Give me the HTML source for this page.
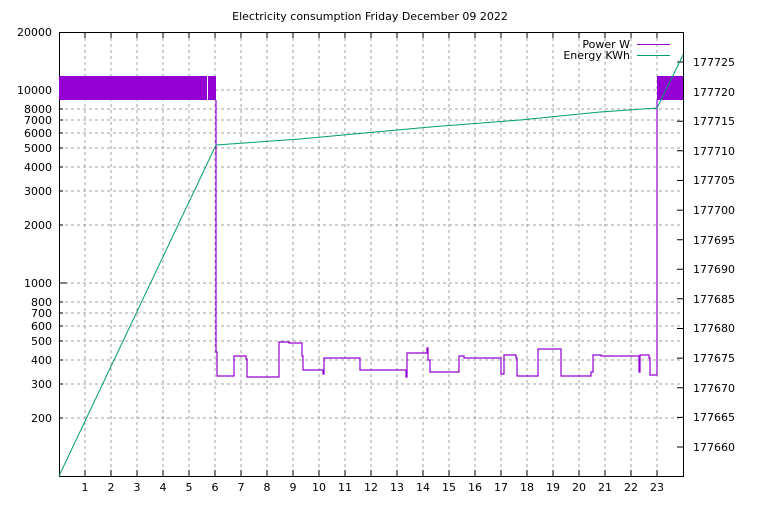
<!DOCTYPE html>
<html><head><style>body{margin:0;background:#fff}svg text{font-family:"DejaVu Sans","Liberation Sans",sans-serif;font-size:11px;fill:#000}</style></head><body>
<svg width="768" height="500" xmlns="http://www.w3.org/2000/svg">
<text x="370" y="20" text-anchor="middle">Electricity consumption Friday December 09 2022</text>
<g stroke="#a0a0a0" stroke-dasharray="3,3" stroke-width="1">
<line x1="85" y1="32" x2="85" y2="476"/><line x1="111" y1="32" x2="111" y2="476"/><line x1="137" y1="32" x2="137" y2="476"/><line x1="163" y1="32" x2="163" y2="476"/><line x1="189" y1="32" x2="189" y2="476"/><line x1="215" y1="32" x2="215" y2="476"/><line x1="241" y1="32" x2="241" y2="476"/><line x1="267" y1="32" x2="267" y2="476"/><line x1="293" y1="32" x2="293" y2="476"/><line x1="319" y1="32" x2="319" y2="476"/><line x1="345" y1="32" x2="345" y2="476"/><line x1="371" y1="32" x2="371" y2="476"/><line x1="397" y1="32" x2="397" y2="476"/><line x1="423" y1="32" x2="423" y2="476"/><line x1="449" y1="32" x2="449" y2="476"/><line x1="475" y1="32" x2="475" y2="476"/><line x1="501" y1="32" x2="501" y2="476"/><line x1="527" y1="32" x2="527" y2="476"/><line x1="553" y1="32" x2="553" y2="476"/><line x1="579" y1="32" x2="579" y2="476"/><line x1="605" y1="32" x2="605" y2="476"/><line x1="631" y1="32" x2="631" y2="476"/><line x1="657" y1="32" x2="657" y2="476"/>
<line x1="59" y1="90" x2="683" y2="90"/><line x1="59" y1="109" x2="683" y2="109"/><line x1="59" y1="120" x2="683" y2="120"/><line x1="59" y1="133" x2="683" y2="133"/><line x1="59" y1="148" x2="683" y2="148"/><line x1="59" y1="167" x2="683" y2="167"/><line x1="59" y1="191" x2="683" y2="191"/><line x1="59" y1="225" x2="683" y2="225"/><line x1="59" y1="283" x2="683" y2="283"/><line x1="59" y1="302" x2="683" y2="302"/><line x1="59" y1="313" x2="683" y2="313"/><line x1="59" y1="326" x2="683" y2="326"/><line x1="59" y1="341" x2="683" y2="341"/><line x1="59" y1="360" x2="683" y2="360"/><line x1="59" y1="384" x2="683" y2="384"/><line x1="59" y1="418" x2="683" y2="418"/>
</g>
<g stroke="#000" stroke-width="1">
<rect x="59.5" y="32.5" width="624" height="444" fill="none"/>
<path d="M85 476v-6M111 476v-6M137 476v-6M163 476v-6M189 476v-6M215 476v-6M241 476v-6M267 476v-6M293 476v-6M319 476v-6M345 476v-6M371 476v-6M397 476v-6M423 476v-6M449 476v-6M475 476v-6M501 476v-6M527 476v-6M553 476v-6M579 476v-6M605 476v-6M631 476v-6M657 476v-6M85 32v6M111 32v6M137 32v6M163 32v6M189 32v6M215 32v6M241 32v6M267 32v6M293 32v6M319 32v6M345 32v6M371 32v6M397 32v6M423 32v6M449 32v6M475 32v6M501 32v6M527 32v6M553 32v6M579 32v6M605 32v6M631 32v6M657 32v6"/>
<path d="M59 90h8M59 109h4M59 120h4M59 133h4M59 148h4M59 167h4M59 191h4M59 225h4M59 283h8M59 302h4M59 313h4M59 326h4M59 341h4M59 360h4M59 384h4M59 418h4"/>
<path d="M683 62h-6M683 91.6h-6M683 121.2h-6M683 150.8h-6M683 180.5h-6M683 210.1h-6M683 239.7h-6M683 269.3h-6M683 298.8h-6M683 328.5h-6M683 358.1h-6M683 387.7h-6M683 417.4h-6M683 447h-6"/>
</g>
<g text-anchor="end">
<text x="52" y="36">20000</text><text x="52" y="94">10000</text><text x="52" y="113">8000</text><text x="52" y="124">7000</text><text x="52" y="137">6000</text><text x="52" y="152">5000</text><text x="52" y="171">4000</text><text x="52" y="195">3000</text><text x="52" y="229">2000</text><text x="52" y="287">1000</text><text x="52" y="306">800</text><text x="52" y="317">700</text><text x="52" y="330">600</text><text x="52" y="345">500</text><text x="52" y="364">400</text><text x="52" y="388">300</text><text x="52" y="422">200</text>
</g>
<g text-anchor="start">
<text x="693" y="66">177725</text><text x="693" y="96">177720</text><text x="693" y="125">177715</text><text x="693" y="155">177710</text><text x="693" y="184">177705</text><text x="693" y="214">177700</text><text x="693" y="244">177695</text><text x="693" y="273">177690</text><text x="693" y="303">177685</text><text x="693" y="332">177680</text><text x="693" y="362">177675</text><text x="693" y="392">177670</text><text x="693" y="421">177665</text><text x="693" y="451">177660</text>
</g>
<g text-anchor="middle">
<text x="85" y="491">1</text><text x="111" y="491">2</text><text x="137" y="491">3</text><text x="163" y="491">4</text><text x="189" y="491">5</text><text x="215" y="491">6</text><text x="241" y="491">7</text><text x="267" y="491">8</text><text x="293" y="491">9</text><text x="319" y="491">10</text><text x="345" y="491">11</text><text x="371" y="491">12</text><text x="397" y="491">13</text><text x="423" y="491">14</text><text x="449" y="491">15</text><text x="475" y="491">16</text><text x="501" y="491">17</text><text x="527" y="491">18</text><text x="553" y="491">19</text><text x="579" y="491">20</text><text x="605" y="491">21</text><text x="631" y="491">22</text><text x="657" y="491">23</text>
</g>
<text x="630" y="48" text-anchor="end">Power W</text>
<text x="630" y="59" text-anchor="end">Energy KWh</text>
<line x1="637" y1="44.5" x2="670" y2="44.5" stroke="#9400d3"/>
<line x1="637" y1="55.5" x2="670" y2="55.5" stroke="#009e73"/>
<rect x="59" y="76" width="148" height="24" fill="#9400d3"/>
<rect x="208" y="76" width="8" height="24" fill="#9400d3"/>
<rect x="657" y="76" width="26" height="24" fill="#9400d3"/>
<polyline fill="none" stroke="#9400d3" stroke-width="1.2" points="216,100 216,352 217,352 217,376 234,376 234,356 246,356 246,359 247,359 247,377 279,377 279,342 289,342 289,343 302,343 302,356 303,356 303,370 323,370 323,374 324,374 324,358 360,358 360,370 406,370 406,377 407,377 407,353 427,353 427,348 428,348 428,360 430,360 430,372 459,372 459,356 464,356 464,358 501,358 501,374 504,374 504,355 516,355 516,358 517,358 517,376 538,376 538,349 561,349 561,376 591,376 591,372 593,372 593,355 601,355 601,356 639,356 639,372 640,372 640,355 649,355 649,358 650,358 650,375 657,375 657,100"/>
<polyline fill="none" stroke="#009e73" stroke-width="1" points="59,476 216,145 300,139 430,127 520,120 600,112 657,108 683,55"/>
</svg>
</body></html>
